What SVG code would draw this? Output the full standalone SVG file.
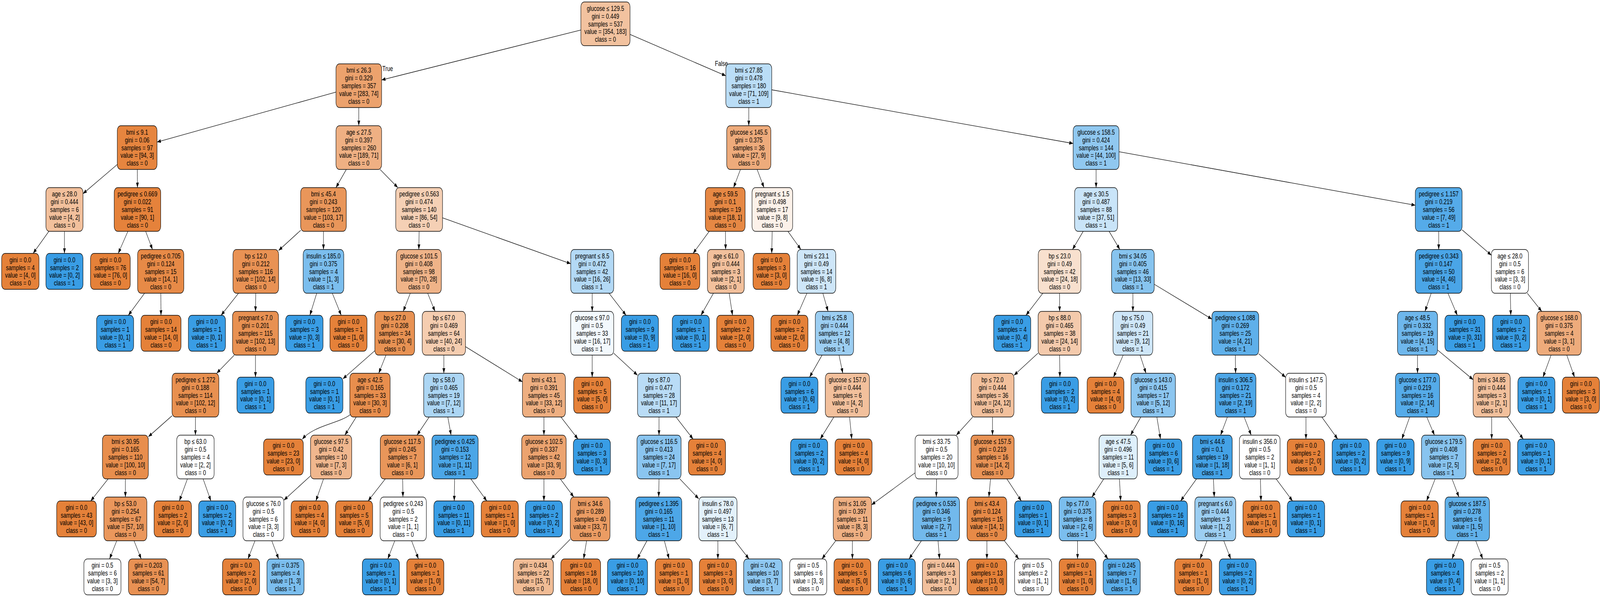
<svg xmlns="http://www.w3.org/2000/svg" width="5436" height="1529" viewBox="0 0 5436 1529" preserveAspectRatio="none">
<defs>
<style>
svg{width:100vw;height:100vh}
text{font-family:"Liberation Sans",Arial,Helvetica,sans-serif;font-size:18px;text-anchor:middle;fill:#000}
.nd rect{stroke:#000;stroke-width:1.4}
#edges line,#edges path{stroke:#000;stroke-width:1.3;fill:none;marker-end:url(#arr)}
</style>
<marker id="arr" markerUnits="userSpaceOnUse" markerWidth="14" markerHeight="10" refX="13" refY="4.7" orient="auto"><path d="M0,0 L13,4.7 L0,9.4 z" fill="#000"/></marker>
</defs>
<rect x="0" y="0" width="5436" height="1529" fill="#fff"/>
<g id="edges">
<line x1="1973.5" y1="76.8" x2="1296.5" y2="204.8"/>
<line x1="2140.5" y1="88.2" x2="2466" y2="194.1"/>
<line x1="1141.5" y1="235.8" x2="533.5" y2="363.8"/>
<line x1="1219" y1="275.5" x2="1219" y2="322"/>
<line x1="398.5" y1="421.3" x2="282" y2="496.1"/>
<line x1="466.5" y1="434" x2="467" y2="480.5"/>
<line x1="166" y1="592.5" x2="112.5" y2="649"/>
<line x1="219" y1="592.5" x2="219" y2="649"/>
<line x1="434.5" y1="592.5" x2="401.7" y2="649"/>
<line x1="494.9" y1="592.5" x2="518.1" y2="639"/>
<line x1="491.2" y1="751" x2="436" y2="807.5"/>
<line x1="546.4" y1="751" x2="547" y2="807.5"/>
<line x1="1176.6" y1="434" x2="1141.4" y2="480.5"/>
<line x1="1291.4" y1="434" x2="1351.6" y2="480.5"/>
<line x1="1021.5" y1="589.9" x2="946.5" y2="641.6"/>
<line x1="1099" y1="592.5" x2="1099" y2="639"/>
<line x1="810.4" y1="751" x2="751.2" y2="807.5"/>
<line x1="869" y1="751" x2="868" y2="797.5"/>
<line x1="795.9" y1="909.5" x2="736.1" y2="956"/>
<line x1="868" y1="909.5" x2="868" y2="966"/>
<line x1="584.5" y1="1064.9" x2="504" y2="1118.6"/>
<line x1="664" y1="1068" x2="664" y2="1114.5"/>
<line x1="367.4" y1="1226.5" x2="308.2" y2="1283"/>
<line x1="426" y1="1226.5" x2="426" y2="1273"/>
<line x1="396.6" y1="1385" x2="372.2" y2="1431.5"/>
<line x1="455.4" y1="1385" x2="479.8" y2="1431.5"/>
<line x1="636.8" y1="1226.5" x2="609.3" y2="1283"/>
<line x1="690.1" y1="1226.5" x2="716.5" y2="1283"/>
<line x1="1076" y1="751" x2="1052.9" y2="807.5"/>
<line x1="1129" y1="751" x2="1159.3" y2="807.5"/>
<line x1="1424" y1="592.5" x2="1423" y2="639"/>
<line x1="1503.5" y1="557.9" x2="1939" y2="675.3"/>
<line x1="1394" y1="751" x2="1370" y2="797.5"/>
<line x1="1453" y1="751" x2="1478" y2="797.5"/>
<line x1="1273.5" y1="898.3" x2="1165" y2="970.2"/>
<line x1="1311.3" y1="909.5" x2="1286.7" y2="956"/>
<path d="M1190,1062 C1150,1085 1065,1090 1027,1125"/>
<line x1="1210.4" y1="1068" x2="1171.6" y2="1114.5"/>
<line x1="1055" y1="1218.7" x2="964.5" y2="1281.1"/>
<line x1="1099.2" y1="1226.5" x2="1073.2" y2="1283"/>
<line x1="866.3" y1="1385" x2="842.5" y2="1431.5"/>
<line x1="923.3" y1="1385" x2="946.8" y2="1431.5"/>
<line x1="1508" y1="909.5" x2="1508" y2="956"/>
<line x1="1581.5" y1="887.8" x2="1775" y2="978"/>
<line x1="1458.2" y1="1068" x2="1416.8" y2="1114.5"/>
<line x1="1521.4" y1="1068" x2="1532.6" y2="1114.5"/>
<line x1="1309.1" y1="1226.5" x2="1250.6" y2="1283"/>
<line x1="1368" y1="1226.5" x2="1369" y2="1273"/>
<line x1="1341.3" y1="1385" x2="1317.5" y2="1431.5"/>
<line x1="1398.3" y1="1385" x2="1421.8" y2="1431.5"/>
<line x1="1544.6" y1="1226.5" x2="1543.2" y2="1283"/>
<line x1="1599.7" y1="1226.5" x2="1653.9" y2="1283"/>
<line x1="1848" y1="1068" x2="1848" y2="1114.5"/>
<line x1="1905.6" y1="1068" x2="1963.7" y2="1124.5"/>
<line x1="1848" y1="1226.5" x2="1848" y2="1283"/>
<line x1="1903.5" y1="1226.5" x2="1949.5" y2="1273"/>
<line x1="1937.5" y1="1381" x2="1871.8" y2="1431.5"/>
<line x1="1992.9" y1="1385" x2="1982.9" y2="1431.5"/>
<line x1="2012" y1="751" x2="2012" y2="797.5"/>
<line x1="2069.2" y1="751" x2="2127" y2="807.5"/>
<line x1="2012" y1="909.5" x2="2012" y2="966"/>
<line x1="2085" y1="904.5" x2="2166" y2="961"/>
<line x1="2239" y1="1068" x2="2239" y2="1114.5"/>
<line x1="2296.6" y1="1068" x2="2354.7" y2="1124.5"/>
<line x1="2239" y1="1226.5" x2="2238" y2="1273"/>
<line x1="2309.7" y1="1226.5" x2="2374" y2="1277.5"/>
<line x1="2198" y1="1385" x2="2164.8" y2="1431.5"/>
<line x1="2257.2" y1="1385" x2="2273.2" y2="1431.5"/>
<line x1="2439" y1="1385" x2="2439" y2="1431.5"/>
<line x1="2496.7" y1="1385" x2="2544.6" y2="1431.5"/>
<line x1="2544" y1="275.5" x2="2544" y2="322"/>
<line x1="2622" y1="230" x2="3646" y2="367.5"/>
<line x1="2515.7" y1="434" x2="2492.3" y2="480.5"/>
<line x1="2572.3" y1="434" x2="2595.7" y2="480.5"/>
<line x1="2409.6" y1="592.5" x2="2354.7" y2="649"/>
<line x1="2464.7" y1="592.5" x2="2465.3" y2="639"/>
<line x1="2424" y1="751" x2="2381.5" y2="807.5"/>
<line x1="2477.3" y1="751" x2="2488.7" y2="807.5"/>
<line x1="2623.5" y1="592.5" x2="2621.9" y2="649"/>
<line x1="2677" y1="592.5" x2="2721" y2="639"/>
<line x1="2741.5" y1="751" x2="2708.7" y2="807.5"/>
<line x1="2795.6" y1="751" x2="2813.4" y2="797.5"/>
<line x1="2793" y1="909.5" x2="2750.5" y2="966"/>
<line x1="2850.5" y1="909.5" x2="2863.5" y2="956"/>
<line x1="2833.1" y1="1068" x2="2786.7" y2="1124.5"/>
<line x1="2886.4" y1="1068" x2="2893.9" y2="1124.5"/>
<line x1="3724" y1="434" x2="3724" y2="480.5"/>
<line x1="3802" y1="388.6" x2="4808.5" y2="525.7"/>
<line x1="3680.2" y1="592.5" x2="3643.8" y2="639"/>
<line x1="3768.2" y1="592.5" x2="3804.8" y2="639"/>
<line x1="3543.1" y1="751" x2="3485.7" y2="807.5"/>
<line x1="3600" y1="751" x2="3600" y2="797.5"/>
<line x1="3527" y1="904.3" x2="3445" y2="961.2"/>
<line x1="3600" y1="909.5" x2="3601" y2="966"/>
<line x1="3304.9" y1="1068" x2="3249.1" y2="1114.5"/>
<line x1="3372" y1="1068" x2="3372" y2="1114.5"/>
<line x1="3109" y1="1211" x2="2961" y2="1293"/>
<line x1="3182" y1="1226.5" x2="3181" y2="1273"/>
<line x1="2839.4" y1="1385" x2="2792.5" y2="1431.5"/>
<line x1="2896" y1="1385" x2="2896" y2="1431.5"/>
<line x1="3130.5" y1="1385" x2="3088.5" y2="1431.5"/>
<line x1="3187" y1="1385" x2="3192" y2="1431.5"/>
<line x1="3365.3" y1="1226.5" x2="3359.7" y2="1273"/>
<line x1="3420.8" y1="1226.5" x2="3470" y2="1283"/>
<line x1="3353" y1="1385" x2="3353" y2="1431.5"/>
<line x1="3412.2" y1="1385" x2="3461.4" y2="1431.5"/>
<line x1="3849" y1="751" x2="3849" y2="797.5"/>
<line x1="3921.5" y1="728" x2="4117.5" y2="817.3"/>
<line x1="3816.1" y1="909.5" x2="3783" y2="966"/>
<line x1="3873.4" y1="909.5" x2="3893.6" y2="956"/>
<line x1="3876" y1="1068" x2="3841" y2="1114.5"/>
<line x1="3930.4" y1="1068" x2="3942.8" y2="1124.5"/>
<line x1="3750.2" y1="1226.5" x2="3709.8" y2="1273"/>
<line x1="3803.2" y1="1226.5" x2="3807.5" y2="1283"/>
<line x1="3661" y1="1385" x2="3661" y2="1431.5"/>
<line x1="3717.6" y1="1385" x2="3764.5" y2="1431.5"/>
<line x1="4197" y1="909.5" x2="4198" y2="956"/>
<line x1="4276.5" y1="906" x2="4368" y2="966.4"/>
<line x1="4170.1" y1="1068" x2="4146.9" y2="1114.5"/>
<line x1="4227" y1="1068" x2="4251" y2="1114.5"/>
<line x1="4065.3" y1="1226.5" x2="4011.1" y2="1283"/>
<line x1="4122.5" y1="1226.5" x2="4125.5" y2="1273"/>
<line x1="4100.7" y1="1385" x2="4077.2" y2="1431.5"/>
<line x1="4157.7" y1="1385" x2="4181.5" y2="1431.5"/>
<line x1="4282.1" y1="1226.5" x2="4284.3" y2="1283"/>
<line x1="4335.5" y1="1226.5" x2="4391.4" y2="1283"/>
<line x1="4437" y1="1068" x2="4437" y2="1124.5"/>
<line x1="4490.7" y1="1068" x2="4544.9" y2="1124.5"/>
<line x1="4888" y1="592.5" x2="4888" y2="639"/>
<line x1="4967.5" y1="588.6" x2="5067" y2="653.7"/>
<line x1="4862.6" y1="751" x2="4841.4" y2="797.5"/>
<line x1="4919.4" y1="751" x2="4951.2" y2="807.5"/>
<line x1="4816" y1="909.5" x2="4816" y2="956"/>
<line x1="4884" y1="896.3" x2="5005" y2="972.4"/>
<line x1="4789.5" y1="1068" x2="4762.8" y2="1124.5"/>
<line x1="4847.4" y1="1068" x2="4873.6" y2="1114.5"/>
<line x1="4876" y1="1226.5" x2="4846.8" y2="1283"/>
<line x1="4933.3" y1="1226.5" x2="4956.7" y2="1273"/>
<line x1="4956.7" y1="1385" x2="4933.2" y2="1431.5"/>
<line x1="5013.7" y1="1385" x2="5037.5" y2="1431.5"/>
<line x1="5068" y1="1068" x2="5068" y2="1124.5"/>
<line x1="5121.3" y1="1068" x2="5175.2" y2="1124.5"/>
<line x1="5131.4" y1="751" x2="5132.8" y2="807.5"/>
<line x1="5189" y1="751" x2="5238" y2="797.5"/>
<line x1="5269.8" y1="909.5" x2="5242.3" y2="966"/>
<line x1="5323.1" y1="909.5" x2="5349.5" y2="966"/>
<text x="1317" y="182">True</text>
<text x="2451" y="169">False</text>
</g>
<g id="n0" class="nd" transform="translate(2057,61)"><rect x="-83.5" y="-56" width="167" height="112" rx="12" fill="#f2c29f"/><text><tspan x="0" y="-33.5">glucose ≤ 129.5</tspan><tspan x="0" y="-13.5">gini = 0.449</tspan><tspan x="0" y="6.5">samples = 537</tspan><tspan x="0" y="26.5">value = [354, 183]</tspan><tspan x="0" y="46.5">class = 0</tspan></text></g>
<g id="n1" class="nd" transform="translate(1219,219.5)"><rect x="-77.5" y="-56" width="155" height="112" rx="12" fill="#eca26d"/><text><tspan x="0" y="-33.5">bmi ≤ 26.3</tspan><tspan x="0" y="-13.5">gini = 0.329</tspan><tspan x="0" y="6.5">samples = 357</tspan><tspan x="0" y="26.5">value = [283, 74]</tspan><tspan x="0" y="46.5">class = 0</tspan></text></g>
<g id="n2" class="nd" transform="translate(466,378)"><rect x="-67.5" y="-56" width="135" height="112" rx="12" fill="#e6853f"/><text><tspan x="0" y="-33.5">bmi ≤ 9.1</tspan><tspan x="0" y="-13.5">gini = 0.06</tspan><tspan x="0" y="6.5">samples = 97</tspan><tspan x="0" y="26.5">value = [94, 3]</tspan><tspan x="0" y="46.5">class = 0</tspan></text></g>
<g id="n3" class="nd" transform="translate(219,536.5)"><rect x="-63" y="-56" width="126" height="112" rx="12" fill="#f2c09c"/><text><tspan x="0" y="-33.5">age ≤ 28.0</tspan><tspan x="0" y="-13.5">gini = 0.444</tspan><tspan x="0" y="6.5">samples = 6</tspan><tspan x="0" y="26.5">value = [4, 2]</tspan><tspan x="0" y="46.5">class = 0</tspan></text></g>
<g id="n4" class="nd" transform="translate(69,695)"><rect x="-63.5" y="-46" width="127" height="92" rx="12" fill="#e58139"/><text><tspan x="0" y="-23.5">gini = 0.0</tspan><tspan x="0" y="-3.5">samples = 4</tspan><tspan x="0" y="16.5">value = [4, 0]</tspan><tspan x="0" y="36.5">class = 0</tspan></text></g>
<g id="n5" class="nd" transform="translate(219,695)"><rect x="-63" y="-46" width="126" height="92" rx="12" fill="#399de5"/><text><tspan x="0" y="-23.5">gini = 0.0</tspan><tspan x="0" y="-3.5">samples = 2</tspan><tspan x="0" y="16.5">value = [0, 2]</tspan><tspan x="0" y="36.5">class = 1</tspan></text></g>
<g id="n6" class="nd" transform="translate(467,536.5)"><rect x="-79" y="-56" width="158" height="112" rx="12" fill="#e5823b"/><text><tspan x="0" y="-33.5">pedigree ≤ 0.669</tspan><tspan x="0" y="-13.5">gini = 0.022</tspan><tspan x="0" y="6.5">samples = 91</tspan><tspan x="0" y="26.5">value = [90, 1]</tspan><tspan x="0" y="46.5">class = 0</tspan></text></g>
<g id="n7" class="nd" transform="translate(375,695)"><rect x="-67.5" y="-46" width="135" height="92" rx="12" fill="#e58139"/><text><tspan x="0" y="-23.5">gini = 0.0</tspan><tspan x="0" y="-3.5">samples = 76</tspan><tspan x="0" y="16.5">value = [76, 0]</tspan><tspan x="0" y="36.5">class = 0</tspan></text></g>
<g id="n8" class="nd" transform="translate(546,695)"><rect x="-78.5" y="-56" width="157" height="112" rx="12" fill="#e78a47"/><text><tspan x="0" y="-33.5">pedigree ≤ 0.705</tspan><tspan x="0" y="-13.5">gini = 0.124</tspan><tspan x="0" y="6.5">samples = 15</tspan><tspan x="0" y="26.5">value = [14, 1]</tspan><tspan x="0" y="46.5">class = 0</tspan></text></g>
<g id="n9" class="nd" transform="translate(391,853.5)"><rect x="-63" y="-46" width="126" height="92" rx="12" fill="#399de5"/><text><tspan x="0" y="-23.5">gini = 0.0</tspan><tspan x="0" y="-3.5">samples = 1</tspan><tspan x="0" y="16.5">value = [0, 1]</tspan><tspan x="0" y="36.5">class = 1</tspan></text></g>
<g id="n10" class="nd" transform="translate(547,853.5)"><rect x="-68" y="-46" width="136" height="92" rx="12" fill="#e58139"/><text><tspan x="0" y="-23.5">gini = 0.0</tspan><tspan x="0" y="-3.5">samples = 14</tspan><tspan x="0" y="16.5">value = [14, 0]</tspan><tspan x="0" y="36.5">class = 0</tspan></text></g>
<g id="n11" class="nd" transform="translate(1219,378)"><rect x="-77.5" y="-56" width="155" height="112" rx="12" fill="#efb083"/><text><tspan x="0" y="-33.5">age ≤ 27.5</tspan><tspan x="0" y="-13.5">gini = 0.397</tspan><tspan x="0" y="6.5">samples = 260</tspan><tspan x="0" y="26.5">value = [189, 71]</tspan><tspan x="0" y="46.5">class = 0</tspan></text></g>
<g id="n12" class="nd" transform="translate(1099,536.5)"><rect x="-77.5" y="-56" width="155" height="112" rx="12" fill="#e9965a"/><text><tspan x="0" y="-33.5">bmi ≤ 45.4</tspan><tspan x="0" y="-13.5">gini = 0.243</tspan><tspan x="0" y="6.5">samples = 120</tspan><tspan x="0" y="26.5">value = [103, 17]</tspan><tspan x="0" y="46.5">class = 0</tspan></text></g>
<g id="n13" class="nd" transform="translate(869,695)"><rect x="-77.5" y="-56" width="155" height="112" rx="12" fill="#e99254"/><text><tspan x="0" y="-33.5">bp ≤ 12.0</tspan><tspan x="0" y="-13.5">gini = 0.212</tspan><tspan x="0" y="6.5">samples = 116</tspan><tspan x="0" y="26.5">value = [102, 14]</tspan><tspan x="0" y="46.5">class = 0</tspan></text></g>
<g id="n14" class="nd" transform="translate(703,853.5)"><rect x="-63" y="-46" width="126" height="92" rx="12" fill="#399de5"/><text><tspan x="0" y="-23.5">gini = 0.0</tspan><tspan x="0" y="-3.5">samples = 1</tspan><tspan x="0" y="16.5">value = [0, 1]</tspan><tspan x="0" y="36.5">class = 1</tspan></text></g>
<g id="n15" class="nd" transform="translate(868,853.5)"><rect x="-78" y="-56" width="156" height="112" rx="12" fill="#e89152"/><text><tspan x="0" y="-33.5">pregnant ≤ 7.0</tspan><tspan x="0" y="-13.5">gini = 0.201</tspan><tspan x="0" y="6.5">samples = 115</tspan><tspan x="0" y="26.5">value = [102, 13]</tspan><tspan x="0" y="46.5">class = 0</tspan></text></g>
<g id="n16" class="nd" transform="translate(664,1012)"><rect x="-79.5" y="-56" width="159" height="112" rx="12" fill="#e89050"/><text><tspan x="0" y="-33.5">pedigree ≤ 1.272</tspan><tspan x="0" y="-13.5">gini = 0.188</tspan><tspan x="0" y="6.5">samples = 114</tspan><tspan x="0" y="26.5">value = [102, 12]</tspan><tspan x="0" y="46.5">class = 0</tspan></text></g>
<g id="n17" class="nd" transform="translate(426,1170.5)"><rect x="-78" y="-56" width="156" height="112" rx="12" fill="#e88e4d"/><text><tspan x="0" y="-33.5">bmi ≤ 30.95</tspan><tspan x="0" y="-13.5">gini = 0.165</tspan><tspan x="0" y="6.5">samples = 110</tspan><tspan x="0" y="26.5">value = [100, 10]</tspan><tspan x="0" y="46.5">class = 0</tspan></text></g>
<g id="n18" class="nd" transform="translate(260,1329)"><rect x="-67.5" y="-46" width="135" height="92" rx="12" fill="#e58139"/><text><tspan x="0" y="-23.5">gini = 0.0</tspan><tspan x="0" y="-3.5">samples = 43</tspan><tspan x="0" y="16.5">value = [43, 0]</tspan><tspan x="0" y="36.5">class = 0</tspan></text></g>
<g id="n19" class="nd" transform="translate(426,1329)"><rect x="-73" y="-56" width="146" height="112" rx="12" fill="#ea975c"/><text><tspan x="0" y="-33.5">bp ≤ 53.0</tspan><tspan x="0" y="-13.5">gini = 0.254</tspan><tspan x="0" y="6.5">samples = 67</tspan><tspan x="0" y="26.5">value = [57, 10]</tspan><tspan x="0" y="46.5">class = 0</tspan></text></g>
<g id="n20" class="nd" transform="translate(348,1477.5)"><rect x="-63" y="-46" width="126" height="92" rx="12" fill="#ffffff"/><text><tspan x="0" y="-23.5">gini = 0.5</tspan><tspan x="0" y="-3.5">samples = 6</tspan><tspan x="0" y="16.5">value = [3, 3]</tspan><tspan x="0" y="36.5">class = 0</tspan></text></g>
<g id="n21" class="nd" transform="translate(504,1477.5)"><rect x="-67.5" y="-46" width="135" height="92" rx="12" fill="#e89153"/><text><tspan x="0" y="-23.5">gini = 0.203</tspan><tspan x="0" y="-3.5">samples = 61</tspan><tspan x="0" y="16.5">value = [54, 7]</tspan><tspan x="0" y="36.5">class = 0</tspan></text></g>
<g id="n22" class="nd" transform="translate(664,1170.5)"><rect x="-63.5" y="-56" width="127" height="112" rx="12" fill="#ffffff"/><text><tspan x="0" y="-33.5">bp ≤ 63.0</tspan><tspan x="0" y="-13.5">gini = 0.5</tspan><tspan x="0" y="6.5">samples = 4</tspan><tspan x="0" y="26.5">value = [2, 2]</tspan><tspan x="0" y="46.5">class = 0</tspan></text></g>
<g id="n23" class="nd" transform="translate(587,1329)"><rect x="-63.5" y="-46" width="127" height="92" rx="12" fill="#e58139"/><text><tspan x="0" y="-23.5">gini = 0.0</tspan><tspan x="0" y="-3.5">samples = 2</tspan><tspan x="0" y="16.5">value = [2, 0]</tspan><tspan x="0" y="36.5">class = 0</tspan></text></g>
<g id="n24" class="nd" transform="translate(738,1329)"><rect x="-63" y="-46" width="126" height="92" rx="12" fill="#399de5"/><text><tspan x="0" y="-23.5">gini = 0.0</tspan><tspan x="0" y="-3.5">samples = 2</tspan><tspan x="0" y="16.5">value = [0, 2]</tspan><tspan x="0" y="36.5">class = 1</tspan></text></g>
<g id="n25" class="nd" transform="translate(868,1012)"><rect x="-63" y="-46" width="126" height="92" rx="12" fill="#399de5"/><text><tspan x="0" y="-23.5">gini = 0.0</tspan><tspan x="0" y="-3.5">samples = 1</tspan><tspan x="0" y="16.5">value = [0, 1]</tspan><tspan x="0" y="36.5">class = 1</tspan></text></g>
<g id="n26" class="nd" transform="translate(1099,695)"><rect x="-69" y="-56" width="138" height="112" rx="12" fill="#7bbeee"/><text><tspan x="0" y="-33.5">insulin ≤ 185.0</tspan><tspan x="0" y="-13.5">gini = 0.375</tspan><tspan x="0" y="6.5">samples = 4</tspan><tspan x="0" y="26.5">value = [1, 3]</tspan><tspan x="0" y="46.5">class = 1</tspan></text></g>
<g id="n27" class="nd" transform="translate(1034,853.5)"><rect x="-63.5" y="-46" width="127" height="92" rx="12" fill="#399de5"/><text><tspan x="0" y="-23.5">gini = 0.0</tspan><tspan x="0" y="-3.5">samples = 3</tspan><tspan x="0" y="16.5">value = [0, 3]</tspan><tspan x="0" y="36.5">class = 1</tspan></text></g>
<g id="n28" class="nd" transform="translate(1184,853.5)"><rect x="-63" y="-46" width="126" height="92" rx="12" fill="#e58139"/><text><tspan x="0" y="-23.5">gini = 0.0</tspan><tspan x="0" y="-3.5">samples = 1</tspan><tspan x="0" y="16.5">value = [1, 0]</tspan><tspan x="0" y="36.5">class = 0</tspan></text></g>
<g id="n29" class="nd" transform="translate(1424,536.5)"><rect x="-79.5" y="-56" width="159" height="112" rx="12" fill="#f5d0b5"/><text><tspan x="0" y="-33.5">pedigree ≤ 0.563</tspan><tspan x="0" y="-13.5">gini = 0.474</tspan><tspan x="0" y="6.5">samples = 140</tspan><tspan x="0" y="26.5">value = [86, 54]</tspan><tspan x="0" y="46.5">class = 0</tspan></text></g>
<g id="n30" class="nd" transform="translate(1423,695)"><rect x="-76.5" y="-56" width="153" height="112" rx="12" fill="#efb388"/><text><tspan x="0" y="-33.5">glucose ≤ 101.5</tspan><tspan x="0" y="-13.5">gini = 0.408</tspan><tspan x="0" y="6.5">samples = 98</tspan><tspan x="0" y="26.5">value = [70, 28]</tspan><tspan x="0" y="46.5">class = 0</tspan></text></g>
<g id="n31" class="nd" transform="translate(1341,853.5)"><rect x="-67.5" y="-56" width="135" height="112" rx="12" fill="#e89253"/><text><tspan x="0" y="-33.5">bp ≤ 27.0</tspan><tspan x="0" y="-13.5">gini = 0.208</tspan><tspan x="0" y="6.5">samples = 34</tspan><tspan x="0" y="26.5">value = [30, 4]</tspan><tspan x="0" y="46.5">class = 0</tspan></text></g>
<g id="n32" class="nd" transform="translate(1102,1012)"><rect x="-63" y="-46" width="126" height="92" rx="12" fill="#399de5"/><text><tspan x="0" y="-23.5">gini = 0.0</tspan><tspan x="0" y="-3.5">samples = 1</tspan><tspan x="0" y="16.5">value = [0, 1]</tspan><tspan x="0" y="36.5">class = 1</tspan></text></g>
<g id="n33" class="nd" transform="translate(1257,1012)"><rect x="-68.5" y="-56" width="137" height="112" rx="12" fill="#e88e4d"/><text><tspan x="0" y="-33.5">age ≤ 42.5</tspan><tspan x="0" y="-13.5">gini = 0.165</tspan><tspan x="0" y="6.5">samples = 33</tspan><tspan x="0" y="26.5">value = [30, 3]</tspan><tspan x="0" y="46.5">class = 0</tspan></text></g>
<g id="n34" class="nd" transform="translate(963,1170.5)"><rect x="-67.5" y="-46" width="135" height="92" rx="12" fill="#e58139"/><text><tspan x="0" y="-23.5">gini = 0.0</tspan><tspan x="0" y="-3.5">samples = 23</tspan><tspan x="0" y="16.5">value = [23, 0]</tspan><tspan x="0" y="36.5">class = 0</tspan></text></g>
<g id="n35" class="nd" transform="translate(1125,1170.5)"><rect x="-70" y="-56" width="140" height="112" rx="12" fill="#f0b78e"/><text><tspan x="0" y="-33.5">glucose ≤ 97.5</tspan><tspan x="0" y="-13.5">gini = 0.42</tspan><tspan x="0" y="6.5">samples = 10</tspan><tspan x="0" y="26.5">value = [7, 3]</tspan><tspan x="0" y="46.5">class = 0</tspan></text></g>
<g id="n36" class="nd" transform="translate(895,1329)"><rect x="-69.5" y="-56" width="139" height="112" rx="12" fill="#ffffff"/><text><tspan x="0" y="-33.5">glucose ≤ 76.0</tspan><tspan x="0" y="-13.5">gini = 0.5</tspan><tspan x="0" y="6.5">samples = 6</tspan><tspan x="0" y="26.5">value = [3, 3]</tspan><tspan x="0" y="46.5">class = 0</tspan></text></g>
<g id="n37" class="nd" transform="translate(819,1477.5)"><rect x="-63" y="-46" width="126" height="92" rx="12" fill="#e58139"/><text><tspan x="0" y="-23.5">gini = 0.0</tspan><tspan x="0" y="-3.5">samples = 2</tspan><tspan x="0" y="16.5">value = [2, 0]</tspan><tspan x="0" y="36.5">class = 0</tspan></text></g>
<g id="n38" class="nd" transform="translate(970,1477.5)"><rect x="-63" y="-46" width="126" height="92" rx="12" fill="#7bbeee"/><text><tspan x="0" y="-23.5">gini = 0.375</tspan><tspan x="0" y="-3.5">samples = 4</tspan><tspan x="0" y="16.5">value = [1, 3]</tspan><tspan x="0" y="36.5">class = 1</tspan></text></g>
<g id="n39" class="nd" transform="translate(1052,1329)"><rect x="-63" y="-46" width="126" height="92" rx="12" fill="#e58139"/><text><tspan x="0" y="-23.5">gini = 0.0</tspan><tspan x="0" y="-3.5">samples = 4</tspan><tspan x="0" y="16.5">value = [4, 0]</tspan><tspan x="0" y="36.5">class = 0</tspan></text></g>
<g id="n40" class="nd" transform="translate(1508,853.5)"><rect x="-73.5" y="-56" width="147" height="112" rx="12" fill="#f5cdb0"/><text><tspan x="0" y="-33.5">bp ≤ 67.0</tspan><tspan x="0" y="-13.5">gini = 0.469</tspan><tspan x="0" y="6.5">samples = 64</tspan><tspan x="0" y="26.5">value = [40, 24]</tspan><tspan x="0" y="46.5">class = 0</tspan></text></g>
<g id="n41" class="nd" transform="translate(1508,1012)"><rect x="-68.5" y="-56" width="137" height="112" rx="12" fill="#acd6f4"/><text><tspan x="0" y="-33.5">bp ≤ 58.0</tspan><tspan x="0" y="-13.5">gini = 0.465</tspan><tspan x="0" y="6.5">samples = 19</tspan><tspan x="0" y="26.5">value = [7, 12]</tspan><tspan x="0" y="46.5">class = 1</tspan></text></g>
<g id="n42" class="nd" transform="translate(1367,1170.5)"><rect x="-75" y="-56" width="150" height="112" rx="12" fill="#e9965a"/><text><tspan x="0" y="-33.5">glucose ≤ 117.5</tspan><tspan x="0" y="-13.5">gini = 0.245</tspan><tspan x="0" y="6.5">samples = 7</tspan><tspan x="0" y="26.5">value = [6, 1]</tspan><tspan x="0" y="46.5">class = 0</tspan></text></g>
<g id="n43" class="nd" transform="translate(1203,1329)"><rect x="-63" y="-46" width="126" height="92" rx="12" fill="#e58139"/><text><tspan x="0" y="-23.5">gini = 0.0</tspan><tspan x="0" y="-3.5">samples = 5</tspan><tspan x="0" y="16.5">value = [5, 0]</tspan><tspan x="0" y="36.5">class = 0</tspan></text></g>
<g id="n44" class="nd" transform="translate(1370,1329)"><rect x="-78.5" y="-56" width="157" height="112" rx="12" fill="#ffffff"/><text><tspan x="0" y="-33.5">pedigree ≤ 0.243</tspan><tspan x="0" y="-13.5">gini = 0.5</tspan><tspan x="0" y="6.5">samples = 2</tspan><tspan x="0" y="26.5">value = [1, 1]</tspan><tspan x="0" y="46.5">class = 0</tspan></text></g>
<g id="n45" class="nd" transform="translate(1294,1477.5)"><rect x="-63" y="-46" width="126" height="92" rx="12" fill="#399de5"/><text><tspan x="0" y="-23.5">gini = 0.0</tspan><tspan x="0" y="-3.5">samples = 1</tspan><tspan x="0" y="16.5">value = [0, 1]</tspan><tspan x="0" y="36.5">class = 1</tspan></text></g>
<g id="n46" class="nd" transform="translate(1445,1477.5)"><rect x="-63" y="-46" width="126" height="92" rx="12" fill="#e58139"/><text><tspan x="0" y="-23.5">gini = 0.0</tspan><tspan x="0" y="-3.5">samples = 1</tspan><tspan x="0" y="16.5">value = [1, 0]</tspan><tspan x="0" y="36.5">class = 0</tspan></text></g>
<g id="n47" class="nd" transform="translate(1546,1170.5)"><rect x="-78.5" y="-56" width="157" height="112" rx="12" fill="#4ba6e7"/><text><tspan x="0" y="-33.5">pedigree ≤ 0.425</tspan><tspan x="0" y="-13.5">gini = 0.153</tspan><tspan x="0" y="6.5">samples = 12</tspan><tspan x="0" y="26.5">value = [1, 11]</tspan><tspan x="0" y="46.5">class = 1</tspan></text></g>
<g id="n48" class="nd" transform="translate(1542,1329)"><rect x="-68" y="-46" width="136" height="92" rx="12" fill="#399de5"/><text><tspan x="0" y="-23.5">gini = 0.0</tspan><tspan x="0" y="-3.5">samples = 11</tspan><tspan x="0" y="16.5">value = [0, 11]</tspan><tspan x="0" y="36.5">class = 1</tspan></text></g>
<g id="n49" class="nd" transform="translate(1698,1329)"><rect x="-63" y="-46" width="126" height="92" rx="12" fill="#e58139"/><text><tspan x="0" y="-23.5">gini = 0.0</tspan><tspan x="0" y="-3.5">samples = 1</tspan><tspan x="0" y="16.5">value = [1, 0]</tspan><tspan x="0" y="36.5">class = 0</tspan></text></g>
<g id="n50" class="nd" transform="translate(1848,1012)"><rect x="-73" y="-56" width="146" height="112" rx="12" fill="#eeaf81"/><text><tspan x="0" y="-33.5">bmi ≤ 43.1</tspan><tspan x="0" y="-13.5">gini = 0.391</tspan><tspan x="0" y="6.5">samples = 45</tspan><tspan x="0" y="26.5">value = [33, 12]</tspan><tspan x="0" y="46.5">class = 0</tspan></text></g>
<g id="n51" class="nd" transform="translate(1848,1170.5)"><rect x="-75.5" y="-56" width="151" height="112" rx="12" fill="#eca36f"/><text><tspan x="0" y="-33.5">glucose ≤ 102.5</tspan><tspan x="0" y="-13.5">gini = 0.337</tspan><tspan x="0" y="6.5">samples = 42</tspan><tspan x="0" y="26.5">value = [33, 9]</tspan><tspan x="0" y="46.5">class = 0</tspan></text></g>
<g id="n52" class="nd" transform="translate(1848,1329)"><rect x="-63" y="-46" width="126" height="92" rx="12" fill="#399de5"/><text><tspan x="0" y="-23.5">gini = 0.0</tspan><tspan x="0" y="-3.5">samples = 2</tspan><tspan x="0" y="16.5">value = [0, 2]</tspan><tspan x="0" y="36.5">class = 1</tspan></text></g>
<g id="n53" class="nd" transform="translate(2005,1329)"><rect x="-67.5" y="-56" width="135" height="112" rx="12" fill="#eb9c63"/><text><tspan x="0" y="-33.5">bmi ≤ 34.6</tspan><tspan x="0" y="-13.5">gini = 0.289</tspan><tspan x="0" y="6.5">samples = 40</tspan><tspan x="0" y="26.5">value = [33, 7]</tspan><tspan x="0" y="46.5">class = 0</tspan></text></g>
<g id="n54" class="nd" transform="translate(1812,1477.5)"><rect x="-68" y="-46" width="136" height="92" rx="12" fill="#f1bc95"/><text><tspan x="0" y="-23.5">gini = 0.434</tspan><tspan x="0" y="-3.5">samples = 22</tspan><tspan x="0" y="16.5">value = [15, 7]</tspan><tspan x="0" y="36.5">class = 0</tspan></text></g>
<g id="n55" class="nd" transform="translate(1973,1477.5)"><rect x="-67.5" y="-46" width="135" height="92" rx="12" fill="#e58139"/><text><tspan x="0" y="-23.5">gini = 0.0</tspan><tspan x="0" y="-3.5">samples = 18</tspan><tspan x="0" y="16.5">value = [18, 0]</tspan><tspan x="0" y="36.5">class = 0</tspan></text></g>
<g id="n56" class="nd" transform="translate(2011,1170.5)"><rect x="-63" y="-46" width="126" height="92" rx="12" fill="#399de5"/><text><tspan x="0" y="-23.5">gini = 0.0</tspan><tspan x="0" y="-3.5">samples = 3</tspan><tspan x="0" y="16.5">value = [0, 3]</tspan><tspan x="0" y="36.5">class = 1</tspan></text></g>
<g id="n57" class="nd" transform="translate(2012,695)"><rect x="-73" y="-56" width="146" height="112" rx="12" fill="#b3d9f5"/><text><tspan x="0" y="-33.5">pregnant ≤ 8.5</tspan><tspan x="0" y="-13.5">gini = 0.472</tspan><tspan x="0" y="6.5">samples = 42</tspan><tspan x="0" y="26.5">value = [16, 26]</tspan><tspan x="0" y="46.5">class = 1</tspan></text></g>
<g id="n58" class="nd" transform="translate(2012,853.5)"><rect x="-73" y="-56" width="146" height="112" rx="12" fill="#f3f9fd"/><text><tspan x="0" y="-33.5">glucose ≤ 97.0</tspan><tspan x="0" y="-13.5">gini = 0.5</tspan><tspan x="0" y="6.5">samples = 33</tspan><tspan x="0" y="26.5">value = [16, 17]</tspan><tspan x="0" y="46.5">class = 1</tspan></text></g>
<g id="n59" class="nd" transform="translate(2012,1012)"><rect x="-63" y="-46" width="126" height="92" rx="12" fill="#e58139"/><text><tspan x="0" y="-23.5">gini = 0.0</tspan><tspan x="0" y="-3.5">samples = 5</tspan><tspan x="0" y="16.5">value = [5, 0]</tspan><tspan x="0" y="36.5">class = 0</tspan></text></g>
<g id="n60" class="nd" transform="translate(2239,1012)"><rect x="-73" y="-56" width="146" height="112" rx="12" fill="#b9dcf6"/><text><tspan x="0" y="-33.5">bp ≤ 87.0</tspan><tspan x="0" y="-13.5">gini = 0.477</tspan><tspan x="0" y="6.5">samples = 28</tspan><tspan x="0" y="26.5">value = [11, 17]</tspan><tspan x="0" y="46.5">class = 1</tspan></text></g>
<g id="n61" class="nd" transform="translate(2239,1170.5)"><rect x="-75" y="-56" width="150" height="112" rx="12" fill="#8ac5f0"/><text><tspan x="0" y="-33.5">glucose ≤ 116.5</tspan><tspan x="0" y="-13.5">gini = 0.413</tspan><tspan x="0" y="6.5">samples = 24</tspan><tspan x="0" y="26.5">value = [7, 17]</tspan><tspan x="0" y="46.5">class = 1</tspan></text></g>
<g id="n62" class="nd" transform="translate(2238,1329)"><rect x="-78.5" y="-56" width="157" height="112" rx="12" fill="#4da7e8"/><text><tspan x="0" y="-33.5">pedigree ≤ 1.395</tspan><tspan x="0" y="-13.5">gini = 0.165</tspan><tspan x="0" y="6.5">samples = 11</tspan><tspan x="0" y="26.5">value = [1, 10]</tspan><tspan x="0" y="46.5">class = 1</tspan></text></g>
<g id="n63" class="nd" transform="translate(2132,1477.5)"><rect x="-68" y="-46" width="136" height="92" rx="12" fill="#399de5"/><text><tspan x="0" y="-23.5">gini = 0.0</tspan><tspan x="0" y="-3.5">samples = 10</tspan><tspan x="0" y="16.5">value = [0, 10]</tspan><tspan x="0" y="36.5">class = 1</tspan></text></g>
<g id="n64" class="nd" transform="translate(2289,1477.5)"><rect x="-63" y="-46" width="126" height="92" rx="12" fill="#e58139"/><text><tspan x="0" y="-23.5">gini = 0.0</tspan><tspan x="0" y="-3.5">samples = 1</tspan><tspan x="0" y="16.5">value = [1, 0]</tspan><tspan x="0" y="36.5">class = 0</tspan></text></g>
<g id="n65" class="nd" transform="translate(2439,1329)"><rect x="-65" y="-56" width="130" height="112" rx="12" fill="#e3f1fb"/><text><tspan x="0" y="-33.5">insulin ≤ 78.0</tspan><tspan x="0" y="-13.5">gini = 0.497</tspan><tspan x="0" y="6.5">samples = 13</tspan><tspan x="0" y="26.5">value = [6, 7]</tspan><tspan x="0" y="46.5">class = 1</tspan></text></g>
<g id="n66" class="nd" transform="translate(2439,1477.5)"><rect x="-63" y="-46" width="126" height="92" rx="12" fill="#e58139"/><text><tspan x="0" y="-23.5">gini = 0.0</tspan><tspan x="0" y="-3.5">samples = 3</tspan><tspan x="0" y="16.5">value = [3, 0]</tspan><tspan x="0" y="36.5">class = 0</tspan></text></g>
<g id="n67" class="nd" transform="translate(2592,1477.5)"><rect x="-65.5" y="-46" width="131" height="92" rx="12" fill="#8ec7f0"/><text><tspan x="0" y="-23.5">gini = 0.42</tspan><tspan x="0" y="-3.5">samples = 10</tspan><tspan x="0" y="16.5">value = [3, 7]</tspan><tspan x="0" y="36.5">class = 1</tspan></text></g>
<g id="n68" class="nd" transform="translate(2402,1170.5)"><rect x="-63" y="-46" width="126" height="92" rx="12" fill="#e58139"/><text><tspan x="0" y="-23.5">gini = 0.0</tspan><tspan x="0" y="-3.5">samples = 4</tspan><tspan x="0" y="16.5">value = [4, 0]</tspan><tspan x="0" y="36.5">class = 0</tspan></text></g>
<g id="n69" class="nd" transform="translate(2174,853.5)"><rect x="-63" y="-46" width="126" height="92" rx="12" fill="#399de5"/><text><tspan x="0" y="-23.5">gini = 0.0</tspan><tspan x="0" y="-3.5">samples = 9</tspan><tspan x="0" y="16.5">value = [0, 9]</tspan><tspan x="0" y="36.5">class = 1</tspan></text></g>
<g id="n70" class="nd" transform="translate(2544,219.5)"><rect x="-78" y="-56" width="156" height="112" rx="12" fill="#baddf6"/><text><tspan x="0" y="-33.5">bmi ≤ 27.85</tspan><tspan x="0" y="-13.5">gini = 0.478</tspan><tspan x="0" y="6.5">samples = 180</tspan><tspan x="0" y="26.5">value = [71, 109]</tspan><tspan x="0" y="46.5">class = 1</tspan></text></g>
<g id="n71" class="nd" transform="translate(2544,378)"><rect x="-75" y="-56" width="150" height="112" rx="12" fill="#eeab7b"/><text><tspan x="0" y="-33.5">glucose ≤ 145.5</tspan><tspan x="0" y="-13.5">gini = 0.375</tspan><tspan x="0" y="6.5">samples = 36</tspan><tspan x="0" y="26.5">value = [27, 9]</tspan><tspan x="0" y="46.5">class = 0</tspan></text></g>
<g id="n72" class="nd" transform="translate(2464,536.5)"><rect x="-67.5" y="-56" width="135" height="112" rx="12" fill="#e68844"/><text><tspan x="0" y="-33.5">age ≤ 59.5</tspan><tspan x="0" y="-13.5">gini = 0.1</tspan><tspan x="0" y="6.5">samples = 19</tspan><tspan x="0" y="26.5">value = [18, 1]</tspan><tspan x="0" y="46.5">class = 0</tspan></text></g>
<g id="n73" class="nd" transform="translate(2310,695)"><rect x="-67.5" y="-46" width="135" height="92" rx="12" fill="#e58139"/><text><tspan x="0" y="-23.5">gini = 0.0</tspan><tspan x="0" y="-3.5">samples = 16</tspan><tspan x="0" y="16.5">value = [16, 0]</tspan><tspan x="0" y="36.5">class = 0</tspan></text></g>
<g id="n74" class="nd" transform="translate(2466,695)"><rect x="-62.5" y="-56" width="125" height="112" rx="12" fill="#f2c09c"/><text><tspan x="0" y="-33.5">age ≤ 61.0</tspan><tspan x="0" y="-13.5">gini = 0.444</tspan><tspan x="0" y="6.5">samples = 3</tspan><tspan x="0" y="26.5">value = [2, 1]</tspan><tspan x="0" y="46.5">class = 0</tspan></text></g>
<g id="n75" class="nd" transform="translate(2347,853.5)"><rect x="-63" y="-46" width="126" height="92" rx="12" fill="#399de5"/><text><tspan x="0" y="-23.5">gini = 0.0</tspan><tspan x="0" y="-3.5">samples = 1</tspan><tspan x="0" y="16.5">value = [0, 1]</tspan><tspan x="0" y="36.5">class = 1</tspan></text></g>
<g id="n76" class="nd" transform="translate(2498,853.5)"><rect x="-63" y="-46" width="126" height="92" rx="12" fill="#e58139"/><text><tspan x="0" y="-23.5">gini = 0.0</tspan><tspan x="0" y="-3.5">samples = 2</tspan><tspan x="0" y="16.5">value = [2, 0]</tspan><tspan x="0" y="36.5">class = 0</tspan></text></g>
<g id="n77" class="nd" transform="translate(2624,536.5)"><rect x="-69" y="-56" width="138" height="112" rx="12" fill="#fcf1e9"/><text><tspan x="0" y="-33.5">pregnant ≤ 1.5</tspan><tspan x="0" y="-13.5">gini = 0.498</tspan><tspan x="0" y="6.5">samples = 17</tspan><tspan x="0" y="26.5">value = [9, 8]</tspan><tspan x="0" y="46.5">class = 0</tspan></text></g>
<g id="n78" class="nd" transform="translate(2621,695)"><rect x="-62.5" y="-46" width="125" height="92" rx="12" fill="#e58139"/><text><tspan x="0" y="-23.5">gini = 0.0</tspan><tspan x="0" y="-3.5">samples = 3</tspan><tspan x="0" y="16.5">value = [3, 0]</tspan><tspan x="0" y="36.5">class = 0</tspan></text></g>
<g id="n79" class="nd" transform="translate(2774,695)"><rect x="-65.5" y="-56" width="131" height="112" rx="12" fill="#cee6f8"/><text><tspan x="0" y="-33.5">bmi ≤ 23.1</tspan><tspan x="0" y="-13.5">gini = 0.49</tspan><tspan x="0" y="6.5">samples = 14</tspan><tspan x="0" y="26.5">value = [6, 8]</tspan><tspan x="0" y="46.5">class = 1</tspan></text></g>
<g id="n80" class="nd" transform="translate(2682,853.5)"><rect x="-63" y="-46" width="126" height="92" rx="12" fill="#e58139"/><text><tspan x="0" y="-23.5">gini = 0.0</tspan><tspan x="0" y="-3.5">samples = 2</tspan><tspan x="0" y="16.5">value = [2, 0]</tspan><tspan x="0" y="36.5">class = 0</tspan></text></g>
<g id="n81" class="nd" transform="translate(2835,853.5)"><rect x="-65" y="-56" width="130" height="112" rx="12" fill="#9ccef2"/><text><tspan x="0" y="-33.5">bmi ≤ 25.8</tspan><tspan x="0" y="-13.5">gini = 0.444</tspan><tspan x="0" y="6.5">samples = 12</tspan><tspan x="0" y="26.5">value = [4, 8]</tspan><tspan x="0" y="46.5">class = 1</tspan></text></g>
<g id="n82" class="nd" transform="translate(2716,1012)"><rect x="-63" y="-46" width="126" height="92" rx="12" fill="#399de5"/><text><tspan x="0" y="-23.5">gini = 0.0</tspan><tspan x="0" y="-3.5">samples = 6</tspan><tspan x="0" y="16.5">value = [0, 6]</tspan><tspan x="0" y="36.5">class = 1</tspan></text></g>
<g id="n83" class="nd" transform="translate(2879,1012)"><rect x="-75" y="-56" width="150" height="112" rx="12" fill="#f2c09c"/><text><tspan x="0" y="-33.5">glucose ≤ 157.0</tspan><tspan x="0" y="-13.5">gini = 0.444</tspan><tspan x="0" y="6.5">samples = 6</tspan><tspan x="0" y="26.5">value = [4, 2]</tspan><tspan x="0" y="46.5">class = 0</tspan></text></g>
<g id="n84" class="nd" transform="translate(2749,1170.5)"><rect x="-63" y="-46" width="126" height="92" rx="12" fill="#399de5"/><text><tspan x="0" y="-23.5">gini = 0.0</tspan><tspan x="0" y="-3.5">samples = 2</tspan><tspan x="0" y="16.5">value = [0, 2]</tspan><tspan x="0" y="36.5">class = 1</tspan></text></g>
<g id="n85" class="nd" transform="translate(2900,1170.5)"><rect x="-63" y="-46" width="126" height="92" rx="12" fill="#e58139"/><text><tspan x="0" y="-23.5">gini = 0.0</tspan><tspan x="0" y="-3.5">samples = 4</tspan><tspan x="0" y="16.5">value = [4, 0]</tspan><tspan x="0" y="36.5">class = 0</tspan></text></g>
<g id="n86" class="nd" transform="translate(3724,378)"><rect x="-78" y="-56" width="156" height="112" rx="12" fill="#90c8f0"/><text><tspan x="0" y="-33.5">glucose ≤ 158.5</tspan><tspan x="0" y="-13.5">gini = 0.424</tspan><tspan x="0" y="6.5">samples = 144</tspan><tspan x="0" y="26.5">value = [44, 100]</tspan><tspan x="0" y="46.5">class = 1</tspan></text></g>
<g id="n87" class="nd" transform="translate(3724,536.5)"><rect x="-73" y="-56" width="146" height="112" rx="12" fill="#c9e4f8"/><text><tspan x="0" y="-33.5">age ≤ 30.5</tspan><tspan x="0" y="-13.5">gini = 0.487</tspan><tspan x="0" y="6.5">samples = 88</tspan><tspan x="0" y="26.5">value = [37, 51]</tspan><tspan x="0" y="46.5">class = 1</tspan></text></g>
<g id="n88" class="nd" transform="translate(3600,695)"><rect x="-72.5" y="-56" width="145" height="112" rx="12" fill="#f8e0ce"/><text><tspan x="0" y="-33.5">bp ≤ 23.0</tspan><tspan x="0" y="-13.5">gini = 0.49</tspan><tspan x="0" y="6.5">samples = 42</tspan><tspan x="0" y="26.5">value = [24, 18]</tspan><tspan x="0" y="46.5">class = 0</tspan></text></g>
<g id="n89" class="nd" transform="translate(3439,853.5)"><rect x="-63" y="-46" width="126" height="92" rx="12" fill="#399de5"/><text><tspan x="0" y="-23.5">gini = 0.0</tspan><tspan x="0" y="-3.5">samples = 4</tspan><tspan x="0" y="16.5">value = [0, 4]</tspan><tspan x="0" y="36.5">class = 1</tspan></text></g>
<g id="n90" class="nd" transform="translate(3600,853.5)"><rect x="-73" y="-56" width="146" height="112" rx="12" fill="#f4caac"/><text><tspan x="0" y="-33.5">bp ≤ 88.0</tspan><tspan x="0" y="-13.5">gini = 0.465</tspan><tspan x="0" y="6.5">samples = 38</tspan><tspan x="0" y="26.5">value = [24, 14]</tspan><tspan x="0" y="46.5">class = 0</tspan></text></g>
<g id="n91" class="nd" transform="translate(3372,1012)"><rect x="-73" y="-56" width="146" height="112" rx="12" fill="#f2c09c"/><text><tspan x="0" y="-33.5">bp ≤ 72.0</tspan><tspan x="0" y="-13.5">gini = 0.444</tspan><tspan x="0" y="6.5">samples = 36</tspan><tspan x="0" y="26.5">value = [24, 12]</tspan><tspan x="0" y="46.5">class = 0</tspan></text></g>
<g id="n92" class="nd" transform="translate(3182,1170.5)"><rect x="-73" y="-56" width="146" height="112" rx="12" fill="#ffffff"/><text><tspan x="0" y="-33.5">bmi ≤ 33.75</tspan><tspan x="0" y="-13.5">gini = 0.5</tspan><tspan x="0" y="6.5">samples = 20</tspan><tspan x="0" y="26.5">value = [10, 10]</tspan><tspan x="0" y="46.5">class = 0</tspan></text></g>
<g id="n93" class="nd" transform="translate(2896,1329)"><rect x="-65" y="-56" width="130" height="112" rx="12" fill="#efb083"/><text><tspan x="0" y="-33.5">bmi ≤ 31.05</tspan><tspan x="0" y="-13.5">gini = 0.397</tspan><tspan x="0" y="6.5">samples = 11</tspan><tspan x="0" y="26.5">value = [8, 3]</tspan><tspan x="0" y="46.5">class = 0</tspan></text></g>
<g id="n94" class="nd" transform="translate(2746,1477.5)"><rect x="-63" y="-46" width="126" height="92" rx="12" fill="#ffffff"/><text><tspan x="0" y="-23.5">gini = 0.5</tspan><tspan x="0" y="-3.5">samples = 6</tspan><tspan x="0" y="16.5">value = [3, 3]</tspan><tspan x="0" y="36.5">class = 0</tspan></text></g>
<g id="n95" class="nd" transform="translate(2896,1477.5)"><rect x="-62.5" y="-46" width="125" height="92" rx="12" fill="#e58139"/><text><tspan x="0" y="-23.5">gini = 0.0</tspan><tspan x="0" y="-3.5">samples = 5</tspan><tspan x="0" y="16.5">value = [5, 0]</tspan><tspan x="0" y="36.5">class = 0</tspan></text></g>
<g id="n96" class="nd" transform="translate(3181,1329)"><rect x="-79" y="-56" width="158" height="112" rx="12" fill="#72b9ec"/><text><tspan x="0" y="-33.5">pedigree ≤ 0.535</tspan><tspan x="0" y="-13.5">gini = 0.346</tspan><tspan x="0" y="6.5">samples = 9</tspan><tspan x="0" y="26.5">value = [2, 7]</tspan><tspan x="0" y="46.5">class = 1</tspan></text></g>
<g id="n97" class="nd" transform="translate(3047,1477.5)"><rect x="-63" y="-46" width="126" height="92" rx="12" fill="#399de5"/><text><tspan x="0" y="-23.5">gini = 0.0</tspan><tspan x="0" y="-3.5">samples = 6</tspan><tspan x="0" y="16.5">value = [0, 6]</tspan><tspan x="0" y="36.5">class = 1</tspan></text></g>
<g id="n98" class="nd" transform="translate(3197,1477.5)"><rect x="-63" y="-46" width="126" height="92" rx="12" fill="#f2c09c"/><text><tspan x="0" y="-23.5">gini = 0.444</tspan><tspan x="0" y="-3.5">samples = 3</tspan><tspan x="0" y="16.5">value = [2, 1]</tspan><tspan x="0" y="36.5">class = 0</tspan></text></g>
<g id="n99" class="nd" transform="translate(3372,1170.5)"><rect x="-73.5" y="-56" width="147" height="112" rx="12" fill="#e99355"/><text><tspan x="0" y="-33.5">glucose ≤ 157.5</tspan><tspan x="0" y="-13.5">gini = 0.219</tspan><tspan x="0" y="6.5">samples = 16</tspan><tspan x="0" y="26.5">value = [14, 2]</tspan><tspan x="0" y="46.5">class = 0</tspan></text></g>
<g id="n100" class="nd" transform="translate(3353,1329)"><rect x="-67.5" y="-56" width="135" height="112" rx="12" fill="#e78a47"/><text><tspan x="0" y="-33.5">bmi ≤ 43.4</tspan><tspan x="0" y="-13.5">gini = 0.124</tspan><tspan x="0" y="6.5">samples = 15</tspan><tspan x="0" y="26.5">value = [14, 1]</tspan><tspan x="0" y="46.5">class = 0</tspan></text></g>
<g id="n101" class="nd" transform="translate(3353,1477.5)"><rect x="-67.5" y="-46" width="135" height="92" rx="12" fill="#e58139"/><text><tspan x="0" y="-23.5">gini = 0.0</tspan><tspan x="0" y="-3.5">samples = 13</tspan><tspan x="0" y="16.5">value = [13, 0]</tspan><tspan x="0" y="36.5">class = 0</tspan></text></g>
<g id="n102" class="nd" transform="translate(3510,1477.5)"><rect x="-63" y="-46" width="126" height="92" rx="12" fill="#ffffff"/><text><tspan x="0" y="-23.5">gini = 0.5</tspan><tspan x="0" y="-3.5">samples = 2</tspan><tspan x="0" y="16.5">value = [1, 1]</tspan><tspan x="0" y="36.5">class = 0</tspan></text></g>
<g id="n103" class="nd" transform="translate(3510,1329)"><rect x="-63" y="-46" width="126" height="92" rx="12" fill="#399de5"/><text><tspan x="0" y="-23.5">gini = 0.0</tspan><tspan x="0" y="-3.5">samples = 1</tspan><tspan x="0" y="16.5">value = [0, 1]</tspan><tspan x="0" y="36.5">class = 1</tspan></text></g>
<g id="n104" class="nd" transform="translate(3601,1012)"><rect x="-63" y="-46" width="126" height="92" rx="12" fill="#399de5"/><text><tspan x="0" y="-23.5">gini = 0.0</tspan><tspan x="0" y="-3.5">samples = 2</tspan><tspan x="0" y="16.5">value = [0, 2]</tspan><tspan x="0" y="36.5">class = 1</tspan></text></g>
<g id="n105" class="nd" transform="translate(3849,695)"><rect x="-72.5" y="-56" width="145" height="112" rx="12" fill="#87c4ef"/><text><tspan x="0" y="-33.5">bmi ≤ 34.05</tspan><tspan x="0" y="-13.5">gini = 0.405</tspan><tspan x="0" y="6.5">samples = 46</tspan><tspan x="0" y="26.5">value = [13, 33]</tspan><tspan x="0" y="46.5">class = 1</tspan></text></g>
<g id="n106" class="nd" transform="translate(3849,853.5)"><rect x="-67.5" y="-56" width="135" height="112" rx="12" fill="#cee6f8"/><text><tspan x="0" y="-33.5">bp ≤ 75.0</tspan><tspan x="0" y="-13.5">gini = 0.49</tspan><tspan x="0" y="6.5">samples = 21</tspan><tspan x="0" y="26.5">value = [9, 12]</tspan><tspan x="0" y="46.5">class = 1</tspan></text></g>
<g id="n107" class="nd" transform="translate(3756,1012)"><rect x="-62.5" y="-46" width="125" height="92" rx="12" fill="#e58139"/><text><tspan x="0" y="-23.5">gini = 0.0</tspan><tspan x="0" y="-3.5">samples = 4</tspan><tspan x="0" y="16.5">value = [4, 0]</tspan><tspan x="0" y="36.5">class = 0</tspan></text></g>
<g id="n108" class="nd" transform="translate(3918,1012)"><rect x="-75.5" y="-56" width="151" height="112" rx="12" fill="#8cc6f0"/><text><tspan x="0" y="-33.5">glucose ≤ 143.0</tspan><tspan x="0" y="-13.5">gini = 0.415</tspan><tspan x="0" y="6.5">samples = 17</tspan><tspan x="0" y="26.5">value = [5, 12]</tspan><tspan x="0" y="46.5">class = 1</tspan></text></g>
<g id="n109" class="nd" transform="translate(3799,1170.5)"><rect x="-65" y="-56" width="130" height="112" rx="12" fill="#deeffb"/><text><tspan x="0" y="-33.5">age ≤ 47.5</tspan><tspan x="0" y="-13.5">gini = 0.496</tspan><tspan x="0" y="6.5">samples = 11</tspan><tspan x="0" y="26.5">value = [5, 6]</tspan><tspan x="0" y="46.5">class = 1</tspan></text></g>
<g id="n110" class="nd" transform="translate(3661,1329)"><rect x="-62.5" y="-56" width="125" height="112" rx="12" fill="#7bbeee"/><text><tspan x="0" y="-33.5">bp ≤ 77.0</tspan><tspan x="0" y="-13.5">gini = 0.375</tspan><tspan x="0" y="6.5">samples = 8</tspan><tspan x="0" y="26.5">value = [2, 6]</tspan><tspan x="0" y="46.5">class = 1</tspan></text></g>
<g id="n111" class="nd" transform="translate(3661,1477.5)"><rect x="-62.5" y="-46" width="125" height="92" rx="12" fill="#e58139"/><text><tspan x="0" y="-23.5">gini = 0.0</tspan><tspan x="0" y="-3.5">samples = 1</tspan><tspan x="0" y="16.5">value = [1, 0]</tspan><tspan x="0" y="36.5">class = 0</tspan></text></g>
<g id="n112" class="nd" transform="translate(3811,1477.5)"><rect x="-63" y="-46" width="126" height="92" rx="12" fill="#5aade9"/><text><tspan x="0" y="-23.5">gini = 0.245</tspan><tspan x="0" y="-3.5">samples = 7</tspan><tspan x="0" y="16.5">value = [1, 6]</tspan><tspan x="0" y="36.5">class = 1</tspan></text></g>
<g id="n113" class="nd" transform="translate(3811,1329)"><rect x="-63" y="-46" width="126" height="92" rx="12" fill="#e58139"/><text><tspan x="0" y="-23.5">gini = 0.0</tspan><tspan x="0" y="-3.5">samples = 3</tspan><tspan x="0" y="16.5">value = [3, 0]</tspan><tspan x="0" y="36.5">class = 0</tspan></text></g>
<g id="n114" class="nd" transform="translate(3953,1170.5)"><rect x="-62.5" y="-46" width="125" height="92" rx="12" fill="#399de5"/><text><tspan x="0" y="-23.5">gini = 0.0</tspan><tspan x="0" y="-3.5">samples = 6</tspan><tspan x="0" y="16.5">value = [0, 6]</tspan><tspan x="0" y="36.5">class = 1</tspan></text></g>
<g id="n115" class="nd" transform="translate(4197,853.5)"><rect x="-79.5" y="-56" width="159" height="112" rx="12" fill="#5fb0ea"/><text><tspan x="0" y="-33.5">pedigree ≤ 1.088</tspan><tspan x="0" y="-13.5">gini = 0.269</tspan><tspan x="0" y="6.5">samples = 25</tspan><tspan x="0" y="26.5">value = [4, 21]</tspan><tspan x="0" y="46.5">class = 1</tspan></text></g>
<g id="n116" class="nd" transform="translate(4198,1012)"><rect x="-69" y="-56" width="138" height="112" rx="12" fill="#4ea7e8"/><text><tspan x="0" y="-33.5">insulin ≤ 306.5</tspan><tspan x="0" y="-13.5">gini = 0.172</tspan><tspan x="0" y="6.5">samples = 21</tspan><tspan x="0" y="26.5">value = [2, 19]</tspan><tspan x="0" y="46.5">class = 1</tspan></text></g>
<g id="n117" class="nd" transform="translate(4119,1170.5)"><rect x="-67.5" y="-56" width="135" height="112" rx="12" fill="#44a2e6"/><text><tspan x="0" y="-33.5">bmi ≤ 44.6</tspan><tspan x="0" y="-13.5">gini = 0.1</tspan><tspan x="0" y="6.5">samples = 19</tspan><tspan x="0" y="26.5">value = [1, 18]</tspan><tspan x="0" y="46.5">class = 1</tspan></text></g>
<g id="n118" class="nd" transform="translate(3967,1329)"><rect x="-67.5" y="-46" width="135" height="92" rx="12" fill="#399de5"/><text><tspan x="0" y="-23.5">gini = 0.0</tspan><tspan x="0" y="-3.5">samples = 16</tspan><tspan x="0" y="16.5">value = [0, 16]</tspan><tspan x="0" y="36.5">class = 1</tspan></text></g>
<g id="n119" class="nd" transform="translate(4129,1329)"><rect x="-69.5" y="-56" width="139" height="112" rx="12" fill="#9ccef2"/><text><tspan x="0" y="-33.5">pregnant ≤ 6.0</tspan><tspan x="0" y="-13.5">gini = 0.444</tspan><tspan x="0" y="6.5">samples = 3</tspan><tspan x="0" y="26.5">value = [1, 2]</tspan><tspan x="0" y="46.5">class = 1</tspan></text></g>
<g id="n120" class="nd" transform="translate(4054,1477.5)"><rect x="-63" y="-46" width="126" height="92" rx="12" fill="#e58139"/><text><tspan x="0" y="-23.5">gini = 0.0</tspan><tspan x="0" y="-3.5">samples = 1</tspan><tspan x="0" y="16.5">value = [1, 0]</tspan><tspan x="0" y="36.5">class = 0</tspan></text></g>
<g id="n121" class="nd" transform="translate(4205,1477.5)"><rect x="-62.5" y="-46" width="125" height="92" rx="12" fill="#399de5"/><text><tspan x="0" y="-23.5">gini = 0.0</tspan><tspan x="0" y="-3.5">samples = 2</tspan><tspan x="0" y="16.5">value = [0, 2]</tspan><tspan x="0" y="36.5">class = 1</tspan></text></g>
<g id="n122" class="nd" transform="translate(4280,1170.5)"><rect x="-69" y="-56" width="138" height="112" rx="12" fill="#ffffff"/><text><tspan x="0" y="-33.5">insulin ≤ 356.0</tspan><tspan x="0" y="-13.5">gini = 0.5</tspan><tspan x="0" y="6.5">samples = 2</tspan><tspan x="0" y="26.5">value = [1, 1]</tspan><tspan x="0" y="46.5">class = 0</tspan></text></g>
<g id="n123" class="nd" transform="translate(4286,1329)"><rect x="-63" y="-46" width="126" height="92" rx="12" fill="#e58139"/><text><tspan x="0" y="-23.5">gini = 0.0</tspan><tspan x="0" y="-3.5">samples = 1</tspan><tspan x="0" y="16.5">value = [1, 0]</tspan><tspan x="0" y="36.5">class = 0</tspan></text></g>
<g id="n124" class="nd" transform="translate(4437,1329)"><rect x="-63.5" y="-46" width="127" height="92" rx="12" fill="#399de5"/><text><tspan x="0" y="-23.5">gini = 0.0</tspan><tspan x="0" y="-3.5">samples = 1</tspan><tspan x="0" y="16.5">value = [0, 1]</tspan><tspan x="0" y="36.5">class = 1</tspan></text></g>
<g id="n125" class="nd" transform="translate(4437,1012)"><rect x="-69" y="-56" width="138" height="112" rx="12" fill="#ffffff"/><text><tspan x="0" y="-33.5">insulin ≤ 147.5</tspan><tspan x="0" y="-13.5">gini = 0.5</tspan><tspan x="0" y="6.5">samples = 4</tspan><tspan x="0" y="26.5">value = [2, 2]</tspan><tspan x="0" y="46.5">class = 0</tspan></text></g>
<g id="n126" class="nd" transform="translate(4437,1170.5)"><rect x="-63.5" y="-46" width="127" height="92" rx="12" fill="#e58139"/><text><tspan x="0" y="-23.5">gini = 0.0</tspan><tspan x="0" y="-3.5">samples = 2</tspan><tspan x="0" y="16.5">value = [2, 0]</tspan><tspan x="0" y="36.5">class = 0</tspan></text></g>
<g id="n127" class="nd" transform="translate(4589,1170.5)"><rect x="-63" y="-46" width="126" height="92" rx="12" fill="#399de5"/><text><tspan x="0" y="-23.5">gini = 0.0</tspan><tspan x="0" y="-3.5">samples = 2</tspan><tspan x="0" y="16.5">value = [0, 2]</tspan><tspan x="0" y="36.5">class = 1</tspan></text></g>
<g id="n128" class="nd" transform="translate(4888,536.5)"><rect x="-79.5" y="-56" width="159" height="112" rx="12" fill="#55abe9"/><text><tspan x="0" y="-33.5">pedigree ≤ 1.157</tspan><tspan x="0" y="-13.5">gini = 0.219</tspan><tspan x="0" y="6.5">samples = 56</tspan><tspan x="0" y="26.5">value = [7, 49]</tspan><tspan x="0" y="46.5">class = 1</tspan></text></g>
<g id="n129" class="nd" transform="translate(4888,695)"><rect x="-79.5" y="-56" width="159" height="112" rx="12" fill="#4aa5e7"/><text><tspan x="0" y="-33.5">pedigree ≤ 0.343</tspan><tspan x="0" y="-13.5">gini = 0.147</tspan><tspan x="0" y="6.5">samples = 50</tspan><tspan x="0" y="26.5">value = [4, 46]</tspan><tspan x="0" y="46.5">class = 1</tspan></text></g>
<g id="n130" class="nd" transform="translate(4816,853.5)"><rect x="-68" y="-56" width="136" height="112" rx="12" fill="#6eb7ec"/><text><tspan x="0" y="-33.5">age ≤ 48.5</tspan><tspan x="0" y="-13.5">gini = 0.332</tspan><tspan x="0" y="6.5">samples = 19</tspan><tspan x="0" y="26.5">value = [4, 15]</tspan><tspan x="0" y="46.5">class = 1</tspan></text></g>
<g id="n131" class="nd" transform="translate(4816,1012)"><rect x="-75" y="-56" width="150" height="112" rx="12" fill="#55abe9"/><text><tspan x="0" y="-33.5">glucose ≤ 177.0</tspan><tspan x="0" y="-13.5">gini = 0.219</tspan><tspan x="0" y="6.5">samples = 16</tspan><tspan x="0" y="26.5">value = [2, 14]</tspan><tspan x="0" y="46.5">class = 1</tspan></text></g>
<g id="n132" class="nd" transform="translate(4741,1170.5)"><rect x="-63.5" y="-46" width="127" height="92" rx="12" fill="#399de5"/><text><tspan x="0" y="-23.5">gini = 0.0</tspan><tspan x="0" y="-3.5">samples = 9</tspan><tspan x="0" y="16.5">value = [0, 9]</tspan><tspan x="0" y="36.5">class = 1</tspan></text></g>
<g id="n133" class="nd" transform="translate(4905,1170.5)"><rect x="-75.5" y="-56" width="151" height="112" rx="12" fill="#88c4ef"/><text><tspan x="0" y="-33.5">glucose ≤ 179.5</tspan><tspan x="0" y="-13.5">gini = 0.408</tspan><tspan x="0" y="6.5">samples = 7</tspan><tspan x="0" y="26.5">value = [2, 5]</tspan><tspan x="0" y="46.5">class = 1</tspan></text></g>
<g id="n134" class="nd" transform="translate(4823,1329)"><rect x="-63.5" y="-46" width="127" height="92" rx="12" fill="#e58139"/><text><tspan x="0" y="-23.5">gini = 0.0</tspan><tspan x="0" y="-3.5">samples = 1</tspan><tspan x="0" y="16.5">value = [1, 0]</tspan><tspan x="0" y="36.5">class = 0</tspan></text></g>
<g id="n135" class="nd" transform="translate(4985,1329)"><rect x="-75.5" y="-56" width="151" height="112" rx="12" fill="#61b1ea"/><text><tspan x="0" y="-33.5">glucose ≤ 187.5</tspan><tspan x="0" y="-13.5">gini = 0.278</tspan><tspan x="0" y="6.5">samples = 6</tspan><tspan x="0" y="26.5">value = [1, 5]</tspan><tspan x="0" y="46.5">class = 1</tspan></text></g>
<g id="n136" class="nd" transform="translate(4910,1477.5)"><rect x="-63.5" y="-46" width="127" height="92" rx="12" fill="#399de5"/><text><tspan x="0" y="-23.5">gini = 0.0</tspan><tspan x="0" y="-3.5">samples = 4</tspan><tspan x="0" y="16.5">value = [0, 4]</tspan><tspan x="0" y="36.5">class = 1</tspan></text></g>
<g id="n137" class="nd" transform="translate(5061,1477.5)"><rect x="-63" y="-46" width="126" height="92" rx="12" fill="#ffffff"/><text><tspan x="0" y="-23.5">gini = 0.5</tspan><tspan x="0" y="-3.5">samples = 2</tspan><tspan x="0" y="16.5">value = [1, 1]</tspan><tspan x="0" y="36.5">class = 0</tspan></text></g>
<g id="n138" class="nd" transform="translate(5068,1012)"><rect x="-63" y="-56" width="126" height="112" rx="12" fill="#f2c09c"/><text><tspan x="0" y="-33.5">bmi ≤ 34.85</tspan><tspan x="0" y="-13.5">gini = 0.444</tspan><tspan x="0" y="6.5">samples = 3</tspan><tspan x="0" y="26.5">value = [2, 1]</tspan><tspan x="0" y="46.5">class = 0</tspan></text></g>
<g id="n139" class="nd" transform="translate(5068,1170.5)"><rect x="-63" y="-46" width="126" height="92" rx="12" fill="#e58139"/><text><tspan x="0" y="-23.5">gini = 0.0</tspan><tspan x="0" y="-3.5">samples = 2</tspan><tspan x="0" y="16.5">value = [2, 0]</tspan><tspan x="0" y="36.5">class = 0</tspan></text></g>
<g id="n140" class="nd" transform="translate(5219,1170.5)"><rect x="-63" y="-46" width="126" height="92" rx="12" fill="#399de5"/><text><tspan x="0" y="-23.5">gini = 0.0</tspan><tspan x="0" y="-3.5">samples = 1</tspan><tspan x="0" y="16.5">value = [0, 1]</tspan><tspan x="0" y="36.5">class = 1</tspan></text></g>
<g id="n141" class="nd" transform="translate(4977,853.5)"><rect x="-68" y="-46" width="136" height="92" rx="12" fill="#399de5"/><text><tspan x="0" y="-23.5">gini = 0.0</tspan><tspan x="0" y="-3.5">samples = 31</tspan><tspan x="0" y="16.5">value = [0, 31]</tspan><tspan x="0" y="36.5">class = 1</tspan></text></g>
<g id="n142" class="nd" transform="translate(5130,695)"><rect x="-63" y="-56" width="126" height="112" rx="12" fill="#ffffff"/><text><tspan x="0" y="-33.5">age ≤ 28.0</tspan><tspan x="0" y="-13.5">gini = 0.5</tspan><tspan x="0" y="6.5">samples = 6</tspan><tspan x="0" y="26.5">value = [3, 3]</tspan><tspan x="0" y="46.5">class = 0</tspan></text></g>
<g id="n143" class="nd" transform="translate(5134,853.5)"><rect x="-63" y="-46" width="126" height="92" rx="12" fill="#399de5"/><text><tspan x="0" y="-23.5">gini = 0.0</tspan><tspan x="0" y="-3.5">samples = 2</tspan><tspan x="0" y="16.5">value = [0, 2]</tspan><tspan x="0" y="36.5">class = 1</tspan></text></g>
<g id="n144" class="nd" transform="translate(5297,853.5)"><rect x="-75.5" y="-56" width="151" height="112" rx="12" fill="#eeab7b"/><text><tspan x="0" y="-33.5">glucose ≤ 168.0</tspan><tspan x="0" y="-13.5">gini = 0.375</tspan><tspan x="0" y="6.5">samples = 4</tspan><tspan x="0" y="26.5">value = [3, 1]</tspan><tspan x="0" y="46.5">class = 0</tspan></text></g>
<g id="n145" class="nd" transform="translate(5220,1012)"><rect x="-63" y="-46" width="126" height="92" rx="12" fill="#399de5"/><text><tspan x="0" y="-23.5">gini = 0.0</tspan><tspan x="0" y="-3.5">samples = 1</tspan><tspan x="0" y="16.5">value = [0, 1]</tspan><tspan x="0" y="36.5">class = 1</tspan></text></g>
<g id="n146" class="nd" transform="translate(5371,1012)"><rect x="-63" y="-46" width="126" height="92" rx="12" fill="#e58139"/><text><tspan x="0" y="-23.5">gini = 0.0</tspan><tspan x="0" y="-3.5">samples = 3</tspan><tspan x="0" y="16.5">value = [3, 0]</tspan><tspan x="0" y="36.5">class = 0</tspan></text></g>
</svg>
